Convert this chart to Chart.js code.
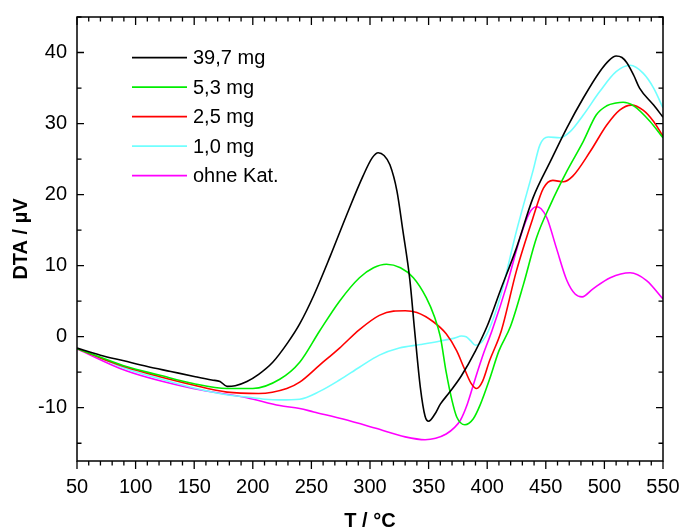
<!DOCTYPE html>
<html>
<head>
<meta charset="utf-8">
<script src="https://cdn.jsdelivr.net/npm/chart.js@4"></script>
<style>
  html, body { margin: 0; padding: 0; background: #ffffff; }
  #wrap { width: 682px; height: 530px; }
</style>
</head>
<body>
<div id="wrap"><canvas id="c" width="682" height="530"></canvas></div>
<script>
// DTA curves: temperature (°C) and signal (µV) per sample mass
const labels = ['39,7 mg', '5,3 mg', '2,5 mg', '1,0 mg', 'ohne Kat.'];
const colors = ['#000000', '#00ee00', '#ff0000', '#70ffff', '#ff00ff'];

const tempA = [50, 70, 90, 110, 130, 150, 165, 172, 178, 185, 195, 205, 217, 230, 240, 252, 266, 280, 294, 302, 307, 312, 317, 323, 328, 334, 338, 343, 347, 350, 355, 360, 368, 378, 390, 400, 411, 425, 439, 454, 468, 482, 496, 504, 510, 515, 519, 525, 530, 542, 550];
const dtaA  = [-1.6, -2.6, -3.4, -4.2, -4.9, -5.6, -6.1, -6.3, -7.0, -6.9, -6.3, -5.3, -3.6, -0.8, 1.8, 5.8, 11.3, 17.1, 22.6, 25.2, 25.9, 25.5, 24.2, 20.5, 15.0, 8.0, 1.0, -7.2, -11.2, -11.9, -11.0, -9.5, -7.8, -5.5, -2.0, 1.5, 6.4, 12.5, 19.5, 24.7, 29.4, 33.6, 37.3, 38.9, 39.5, 39.3, 38.6, 36.8, 35.0, 32.6, 30.9];

const tempB = [50, 70, 92, 120, 149, 178, 200, 223, 240, 257, 274, 291, 303, 314, 326, 337, 348, 355, 360, 365, 370, 374, 381, 388, 394, 402, 410, 420, 431, 442, 454, 468, 482, 493, 502, 510, 516, 525, 539, 550];
const dtaB  = [-1.7, -2.9, -4.2, -5.4, -6.6, -7.3, -7.3, -6.0, -3.6, 0.8, 5.0, 8.3, 9.7, 10.2, 9.7, 8.3, 5.5, 2.8, 0.0, -5.0, -9.0, -11.3, -12.4, -11.6, -9.6, -6.0, -2.0, 1.5, 7.4, 13.9, 18.6, 23.3, 27.5, 31.2, 32.5, 32.9, 33.0, 32.5, 30.3, 28.0];

const tempC = [50, 70, 92, 120, 149, 178, 205, 229, 240, 257, 274, 291, 308, 320, 330, 340, 354, 365, 374, 380, 386, 391, 396, 402, 412, 425, 439, 448, 456, 465, 473, 488, 502, 513, 523, 533, 542, 550];
const dtaC  = [-1.7, -3.0, -4.3, -5.6, -6.8, -7.8, -8.0, -7.3, -6.4, -4.0, -1.6, 1.0, 3.0, 3.6, 3.65, 3.4, 2.1, 0.4, -2.0, -4.3, -6.5, -7.3, -6.3, -3.4, 0.8, 9.3, 16.7, 20.9, 22.0, 21.8, 22.6, 26.1, 29.8, 31.9, 32.6, 31.9, 30.3, 28.2];

const tempD = [50, 70, 92, 120, 149, 175, 195, 210, 223, 240, 257, 274, 291, 308, 325, 343, 360, 372, 378, 382, 386, 390, 395, 401, 411, 425, 439, 445, 452, 462, 471, 482, 496, 510, 522, 533, 542, 550];
const dtaD  = [-1.7, -3.0, -4.5, -5.9, -7.2, -8.1, -8.5, -8.8, -8.9, -8.8, -7.7, -6.1, -4.3, -2.6, -1.6, -1.1, -0.6, -0.2, 0.1, 0.0, -0.6, -1.2, -0.8, 0.8, 5.5, 14.9, 23.3, 27.0, 28.1, 28.0, 28.9, 31.2, 34.5, 37.3, 38.2, 37.1, 35.0, 32.2];

const tempE = [50, 92, 149, 195, 223, 240, 252, 277, 305, 330, 347, 356, 365, 372, 377, 383, 390, 397, 404, 417, 428, 436, 442, 446, 451, 459, 468, 475, 481, 490, 505, 522, 536, 550];
const dtaE  = [-1.7, -4.8, -7.3, -8.6, -9.7, -10.1, -10.6, -11.6, -12.9, -14.1, -14.5, -14.3, -13.7, -12.8, -11.8, -9.5, -5.8, -2.3, 0.8, 7.4, 13.9, 17.4, 18.3, 18.0, 16.7, 12.5, 7.9, 6.0, 5.6, 6.7, 8.3, 9.0, 7.9, 5.3];

const xTickValues = [50, 100, 150, 200, 250, 300, 350, 400, 450, 500, 550];
const yTickValues = [-10, 0, 10, 20, 30, 40];

const series = [[tempA, dtaA], [tempB, dtaB], [tempC, dtaC], [tempD, dtaD], [tempE, dtaE]];

const FONT = "'Liberation Sans', Arial, sans-serif";

const datasets = series.map(([t, v], i) => ({
  label: labels[i],
  data: t.map((x, k) => ({ x: x, y: v[k] })),
  borderColor: colors[i],
  backgroundColor: colors[i],
  borderWidth: 1.6,
  pointRadius: 0,
  fill: false,
  cubicInterpolationMode: 'monotone'
}));

// frame, tick marks and an inset legend
const framePlugin = {
  id: 'frame',
  afterDraw(chart) {
    const ctx = chart.ctx;
    const a = chart.chartArea;
    const xs = chart.scales.x, ys = chart.scales.y;
    ctx.save();
    ctx.strokeStyle = '#000';
    ctx.lineWidth = 1.5;
    ctx.strokeRect(a.left, a.top, a.right - a.left, a.bottom - a.top);
    ctx.lineWidth = 1.3;
    ctx.beginPath();
    for (let v = 50; v <= 550; v += 10) {
      const px = xs.getPixelForValue(v);
      const major = v % 50 === 0;
      const l = major ? 8 : 4.5;
      ctx.moveTo(px, a.bottom); ctx.lineTo(px, a.bottom + l);
      ctx.moveTo(px, a.top); ctx.lineTo(px, a.top + l);
    }
    for (let v = -15; v <= 45; v += 5) {
      const py = ys.getPixelForValue(v);
      const major = v % 10 === 0;
      const l = major ? 7 : 4.5;
      ctx.moveTo(a.left, py); ctx.lineTo(a.left + l, py);
      ctx.moveTo(a.right, py); ctx.lineTo(a.right - l, py);
    }
    ctx.stroke();

    // legend
    ctx.font = '20px ' + FONT;
    ctx.textBaseline = 'middle';
    ctx.textAlign = 'left';
    chart.data.datasets.forEach((ds, i) => {
      const y = 57.7 + i * 29.5;
      ctx.strokeStyle = ds.borderColor;
      ctx.lineWidth = 1.8;
      ctx.beginPath();
      ctx.moveTo(132, y); ctx.lineTo(187, y);
      ctx.stroke();
      ctx.fillStyle = '#000';
      ctx.fillText(ds.label, 193, y + 1);
    });
    ctx.restore();
  }
};

new Chart(document.getElementById('c'), {
  type: 'line',
  data: { datasets: datasets },
  options: {
    responsive: false,
    animation: false,
    layout: { padding: { left: 0, right: 19, top: 17, bottom: 0 } },
    plugins: { legend: { display: false }, tooltip: { enabled: false } },
    scales: {
      x: {
        type: 'linear',
        min: 50, max: 550,
        afterBuildTicks: s => { s.ticks = xTickValues.map(v => ({ value: v })); },
        afterFit: s => { s.height = 69; s.paddingLeft = 0; s.paddingRight = 0; },
        grid: { display: false, drawTicks: false },
        border: { display: false },
        ticks: { color: '#000', font: { family: FONT, size: 20 }, padding: 14, maxRotation: 0, autoSkip: false },
        title: { display: true, text: 'T / °C', color: '#000', font: { family: FONT, size: 20, weight: 'bold', lineHeight: 1 }, padding: { top: 0, bottom: -1 } }
      },
      y: {
        type: 'linear',
        min: -17.5, max: 45,
        afterBuildTicks: s => { s.ticks = yTickValues.map(v => ({ value: v })); },
        afterFit: s => { s.width = 77; s.paddingTop = 0; s.paddingBottom = 0; },
        grid: { display: false, drawTicks: false },
        border: { display: false },
        ticks: { color: '#000', font: { family: FONT, size: 20 }, padding: 10, autoSkip: false },
        title: { display: true, text: 'DTA / µV', color: '#000', font: { family: FONT, size: 20, weight: 'bold', lineHeight: 1 }, padding: { top: 11, bottom: 0 } }
      }
    }
  },
  plugins: [framePlugin]
});
</script>
</body>
</html>
